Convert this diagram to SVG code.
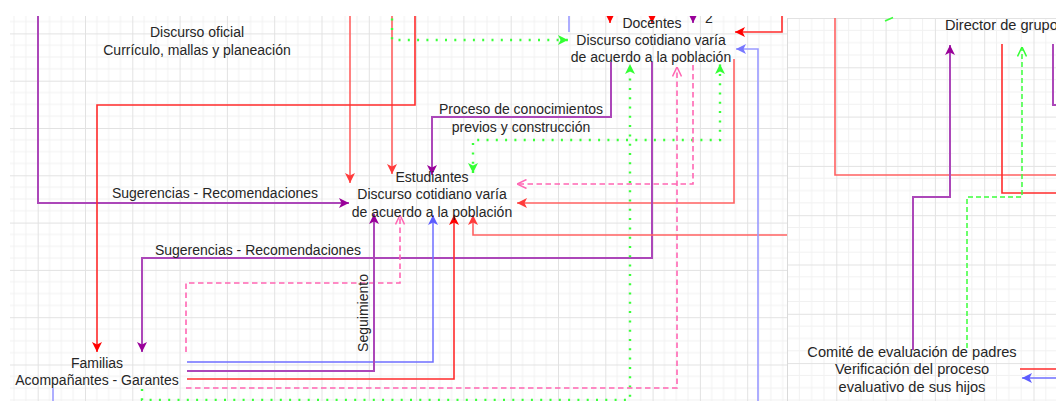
<svg xmlns="http://www.w3.org/2000/svg" width="1056" height="401" viewBox="0 0 1056 401">
<style>
text{font-family:"Liberation Sans",Arial,sans-serif;font-size:14px;fill:#262626}
.c{text-anchor:middle}
.rp text{font-size:14.6px}
.ln{fill:none;stroke-linejoin:miter}
.pu{stroke:#AC47B9;stroke-width:2}
.rb{stroke:#FF2B2B;stroke-width:1.6}
.rl{stroke:#FF6161;stroke-width:1.6}
.bl{stroke:#6F6FFF;stroke-width:1.5}
.bx{stroke:#9A9AFF;stroke-width:1.6}
.gd{stroke:#3BFF3B;stroke-width:2.4;stroke-dasharray:2 7.3}
.gs{stroke:#3BFF3B;stroke-width:1.5;stroke-dasharray:5 3}
.pk{stroke:#FF66B3;stroke-width:1.6;stroke-dasharray:5.5 3.5}
</style>
<defs>
<pattern id="gl" patternUnits="userSpaceOnUse" x="37.7" y="33.4" width="47.3" height="47.3">
<path d="M11.825,0V47.3M23.65,0V47.3M35.475,0V47.3M0,11.825H47.3M0,23.65H47.3M0,35.475H47.3" stroke="#F1F1F1" stroke-width="1"/>
<path d="M0.5,0V47.3M0,0.5H47.3" stroke="#E2E2E2" stroke-width="1"/>
</pattern>
<pattern id="gr" patternUnits="userSpaceOnUse" x="787" y="18" width="49.3" height="49.3">
<path d="M12.325,0V49.3M24.65,0V49.3M36.975,0V49.3M0,12.325H49.3M0,24.65H49.3M0,36.975H49.3" stroke="#F1F1F1" stroke-width="1"/>
<path d="M0.5,0V49.3M0,0.5H49.3" stroke="#E2E2E2" stroke-width="1"/>
</pattern>
<marker id="aPu" viewBox="0 0 10 10" refX="10" refY="5" markerWidth="10" markerHeight="10" markerUnits="userSpaceOnUse" orient="auto-start-reverse"><path d="M0,0L10,5L0,10L2.5,5Z" fill="#990099"/></marker>
<marker id="aRb" viewBox="0 0 10 10" refX="10" refY="5" markerWidth="10" markerHeight="10" markerUnits="userSpaceOnUse" orient="auto-start-reverse"><path d="M0,0L10,5L0,10L2.5,5Z" fill="#FF0000"/></marker>
<marker id="aRl" viewBox="0 0 10 10" refX="10" refY="5" markerWidth="10" markerHeight="10" markerUnits="userSpaceOnUse" orient="auto-start-reverse"><path d="M0,0L10,5L0,10L2.5,5Z" fill="#FF3B3B"/></marker>
<marker id="aBl" viewBox="0 0 10 10" refX="10" refY="5" markerWidth="10" markerHeight="10" markerUnits="userSpaceOnUse" orient="auto-start-reverse"><path d="M0,0L10,5L0,10L2.5,5Z" fill="#5C5CFF"/></marker>
<marker id="aBx" viewBox="0 0 10 10" refX="10" refY="5" markerWidth="10" markerHeight="10" markerUnits="userSpaceOnUse" orient="auto-start-reverse"><path d="M0,0L10,5L0,10L2.5,5Z" fill="#7777FF"/></marker>
<marker id="aGr" viewBox="0 0 10 10" refX="10" refY="5" markerWidth="10" markerHeight="10" markerUnits="userSpaceOnUse" orient="auto-start-reverse"><path d="M0,0L10,5L0,10L2.5,5Z" fill="#33FF33"/></marker>
<marker id="oPk" viewBox="0 0 10 10" refX="10" refY="5" markerWidth="10" markerHeight="10" markerUnits="userSpaceOnUse" orient="auto-start-reverse"><path d="M0.5,0.5L10,5L0.5,9.5" fill="none" stroke="#FF66B3" stroke-width="1.5"/></marker>
<marker id="oGr" viewBox="0 0 10 10" refX="10" refY="5" markerWidth="10" markerHeight="10" markerUnits="userSpaceOnUse" orient="auto-start-reverse"><path d="M0.5,0.5L10,5L0.5,9.5" fill="none" stroke="#33FF33" stroke-width="1.5"/></marker>
</defs>
<rect x="0" y="0" width="1056" height="401" fill="#FFFFFF"/>
<rect x="10" y="16" width="777" height="385" fill="url(#gl)"/>

<g id="connectors-left">
<path class="ln pu" d="M38,0V203H349" marker-end="url(#aPu)"/>
<path class="ln rl" d="M350,0V183" marker-end="url(#aRl)"/>
<path class="ln rl" d="M392,0V174" marker-end="url(#aRl)"/>
<path class="ln rb" d="M415,0V105H97V352" marker-end="url(#aRb)"/>
<path class="ln gd" d="M392,0V40H568" marker-end="url(#aGr)"/>
<path class="ln pu" d="M611,62V117H432V175" marker-end="url(#aPu)"/>
<path class="ln gd" d="M473,173V140H720V64" marker-start="url(#aGr)" marker-end="url(#aGr)"/>
<path class="ln pk" d="M693,65V184H517" marker-end="url(#oPk)"/>
<path class="ln rl" d="M734,59V203H517" marker-end="url(#aRl)"/>
<path class="ln pu" d="M652,62V258H142V352" marker-end="url(#aPu)"/>
<path class="ln gd" d="M142,389V400H630V64" marker-end="url(#aGr)"/>
<path class="ln pk" d="M186,352V283H400V215" marker-end="url(#oPk)"/>
<path class="ln pk" d="M186,388H677V67" marker-end="url(#oPk)"/>
<path class="ln bl" d="M187,362H433V215" marker-end="url(#aBl)"/>
<path class="ln pu" d="M187,371H374V214" marker-end="url(#aPu)"/>
<path class="ln rb" d="M187,379H454V215" marker-end="url(#aRb)"/>
<path class="ln rl" d="M800,235H473V215" marker-end="url(#aRl)"/>
<path class="ln rb" d="M782,0V32H735" marker-end="url(#aRb)"/>
<path class="ln bx" d="M758,401V49H736" marker-end="url(#aBx)"/>
<path class="ln bx" d="M569,0V32"/>
<path class="ln rb" d="M610,0V23" marker-end="url(#aRb)"/>
<path class="ln rb" d="M652,0V23" marker-end="url(#aRb)"/>
<path class="ln pu" d="M693,0V23" marker-end="url(#aPu)"/>
<path class="ln bx" d="M53,388V401"/>
<text class="c" x="215" y="198">Sugerencias - Recomendaciones</text>
<text class="c" x="258" y="255">Sugerencias - Recomendaciones</text>
<text class="c" x="521" y="114">Proceso de conocimientos</text>
<text class="c" x="521" y="132">previos y construcción</text>
<text class="c" transform="translate(367.5,313) rotate(-90)" x="0" y="0">Seguimiento</text>
</g>

<g id="node-discurso-oficial">
<text class="c" x="197" y="37">Discurso oficial</text>
<text class="c" x="197" y="55">Currículo, mallas y planeación</text>
</g>
<g id="node-docentes">
<text class="c" x="652" y="28">Docentes</text>
<text class="c" x="651" y="45">Discurso cotidiano varía</text>
<text class="c" x="651" y="62">de acuerdo a la población</text>
<text x="705" y="23">2</text>
</g>
<g id="node-estudiantes">
<text class="c" x="432" y="182">Estudiantes</text>
<text class="c" x="432" y="199">Discurso cotidiano varía</text>
<text class="c" x="432" y="216.5">de acuerdo a la población</text>
</g>
<g id="node-familias">
<text class="c" x="97" y="368">Familias</text>
<text class="c" x="97" y="385">Acompañantes - Garantes</text>
</g>

<rect x="0" y="0" width="1056" height="16" fill="#FFFFFF"/>
<rect x="787" y="0" width="269" height="401" fill="#FFFFFF"/>
<rect x="787" y="18" width="269" height="383" fill="url(#gr)"/>
<path d="M787.5,18V401" stroke="#DADADA" stroke-width="1"/>

<g id="connectors-right">
<path class="ln rl" d="M835,18V175H1060"/>
<path class="ln rb" d="M1002,44V193H1060"/>
<path class="ln gs" d="M967,348V197H1022V47" marker-end="url(#oGr)"/>
<path class="ln pu" d="M913,350V197H950V45" marker-end="url(#aPu)"/>
<path class="ln pu" d="M1053,44V105H1060"/>
<path class="ln rb" d="M1020,369H1060"/>
<path class="ln bl" d="M1060,378H1022" marker-end="url(#aBl)"/>
<path class="ln" d="M885,21L893,17.5" stroke="#3BFF3B" stroke-width="1.5"/>
</g>
<g class="rp">
<g id="node-director">
<text x="945" y="30">Director de grupo</text>
</g>
<g id="node-comite">
<text class="c" x="912" y="357">Comité de evaluación de padres</text>
<text class="c" x="912" y="374">Verificación del proceso</text>
<text class="c" x="912" y="392">evaluativo de sus hijos</text>
</g>
</g>
</svg>
